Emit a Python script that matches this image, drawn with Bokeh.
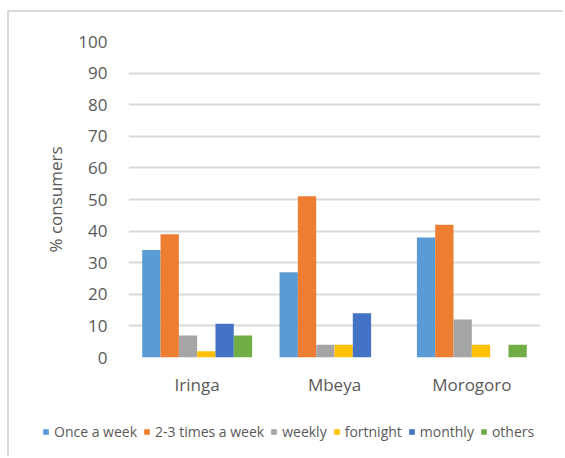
from bokeh.plotting import figure
from bokeh.models import FactorRange, Legend, LegendItem, SingleIntervalTicker, Range1d
from bokeh.transform import dodge
from bokeh.embed import file_html
from bokeh.resources import INLINE

categories = ["Iringa", "Mbeya", "Morogoro"]
series = ["Once a week", "2-3 times a week", "weekly", "fortnight", "monthly", "others"]
once_a_week = [34, 27, 38]
two_three_times = [39, 51, 42]
weekly = [7, 4, 12]
fortnight = [2, 4, 4]
monthly = [10.7, 14, 0]
others = [7, 0, 4]
values = [once_a_week, two_three_times, weekly, fortnight, monthly, others]
colors = ["#5B9BD5", "#ED7D31", "#A5A5A5", "#FFC000", "#4472C4", "#70AD47"]

TXT = "#595959"
FONT = "Open Sans"
BORDER = "2px solid #d9d9d9"

# ---- main chart ----
p = figure(x_range=FactorRange(*categories), y_range=(0, 100),
           width=556, height=400, output_backend="svg", toolbar_location=None,
           min_border_left=119, min_border_right=25, min_border_top=29, min_border_bottom=55)
p.outline_line_color = None
p.styles = {"margin-left": "7px", "margin-top": "10px",
            "border-left": BORDER, "border-top": BORDER}

w = 0.8 / len(series)
for i, (vals, c) in enumerate(zip(values, colors)):
    src = {"cat": categories, "val": vals}
    p.vbar(x=dodge("cat", (i - 2.5) * w, range=p.x_range), top="val", width=w,
           source=src, fill_color=c, line_color=None)

p.yaxis.ticker = SingleIntervalTicker(interval=10)
p.ygrid.grid_line_color = "#d9d9d9"
p.ygrid.grid_line_width = 2
p.xgrid.grid_line_color = None

for ax in (p.xaxis[0], p.yaxis[0]):
    ax.axis_line_color = None
    ax.major_tick_line_color = None
    ax.minor_tick_line_color = None
    ax.major_label_text_color = TXT
    ax.major_label_text_font = FONT
    ax.major_label_text_font_size = "17px"

p.yaxis.major_label_standoff = 15
p.xaxis.major_label_standoff = 9
p.yaxis.axis_label = "% consumers"
p.yaxis.axis_label_text_font = FONT
p.yaxis.axis_label_text_font_size = "17px"
p.yaxis.axis_label_text_font_style = "normal"
p.yaxis.axis_label_text_color = TXT
p.yaxis.axis_label_standoff = 8

# ---- legend strip below the chart ----
lg = figure(width=556, height=46, output_backend="svg", toolbar_location=None,
            x_range=Range1d(0, 1), y_range=Range1d(0, 1),
            x_axis_location=None, y_axis_location=None,
            min_border_left=0, min_border_right=0, min_border_top=0, min_border_bottom=0)
lg.styles = {"margin-left": "7px", "border-left": BORDER}
lg.outline_line_color = None
lg.xgrid.grid_line_color = None
lg.ygrid.grid_line_color = None
items = []
for name, c in zip(series, colors):
    r = lg.vbar(x=[0.5], top=[0.5], width=0.1, fill_color=c, line_color=None, visible=False)
    items.append(LegendItem(label=name, renderers=[r]))
legend = Legend(items=items, orientation="horizontal", location=(33, 15),
                glyph_width=7, glyph_height=7, label_standoff=5, spacing=6,
                padding=0, margin=0, border_line_color=None, background_fill_alpha=0,
                label_text_font=FONT, label_text_font_size="14px", label_text_color=TXT)
lg.add_layout(legend, "center")

open("out.html", "w").write(file_html([p, lg], INLINE))
